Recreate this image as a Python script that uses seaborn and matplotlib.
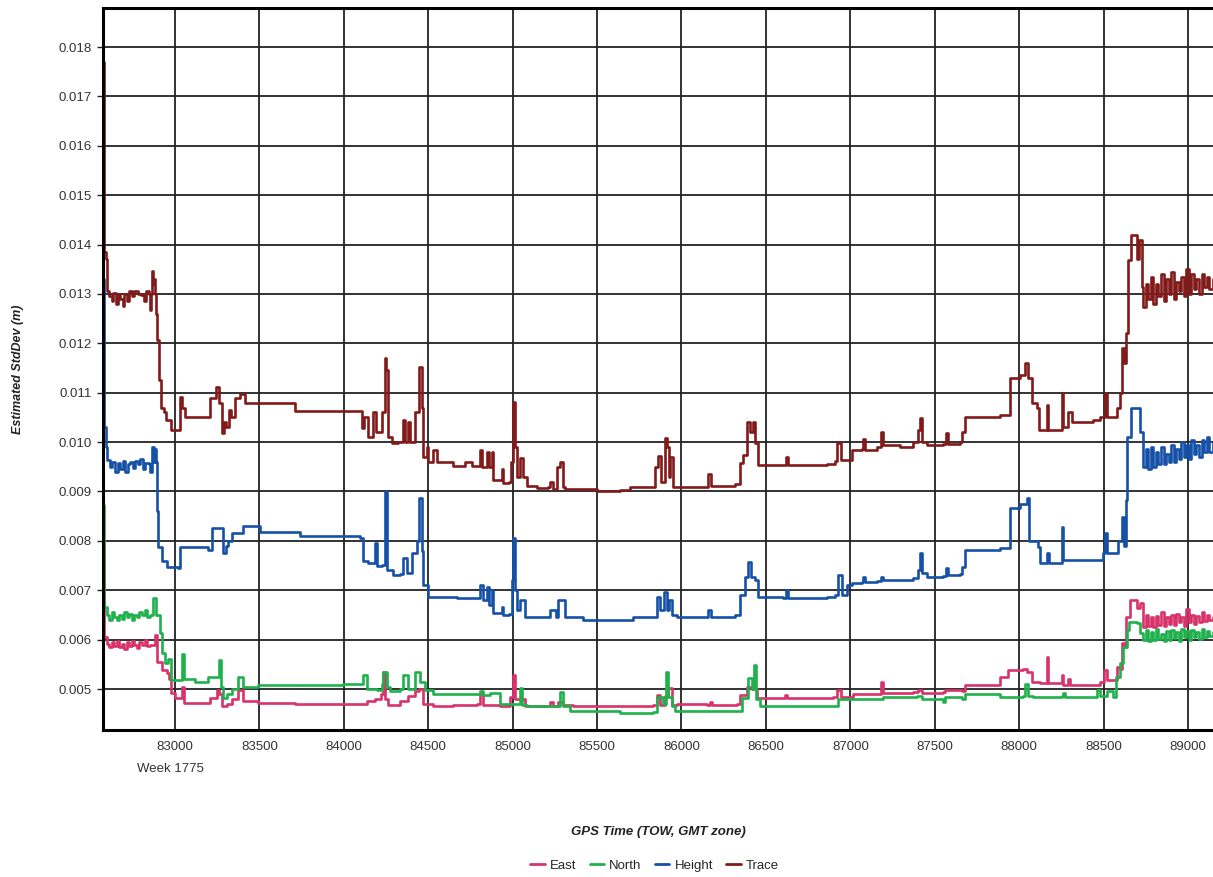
import pandas as pd
import matplotlib
matplotlib.use("Agg")
import matplotlib.pyplot as plt
import seaborn as sns

# values (TOW seconds, metres)
trace_x = [82578, 82582, 82590, 82595, 82610, 82625, 82635, 82650, 82660, 82675, 82690, 82700, 82715, 82730,
           82745, 82760, 82780, 82800, 82815, 82830, 82845, 82852, 82860, 82866, 82872, 82878, 82884, 82887,
           82893, 82905, 82920, 82935, 82950, 82976, 82990, 83030, 83040, 83060, 83195, 83210, 83245, 83260,
           83278, 83290, 83300, 83320, 83330, 83355, 83385, 83415, 83515, 83711, 84096, 84108, 84120, 84143,
           84173, 84190, 84226, 84244, 84250, 84261, 84285, 84321, 84350, 84360, 84380, 84395, 84422, 84445,
           84463, 84469, 84493, 84499, 84528, 84552, 84647, 84718, 84760, 84807, 84820, 84848, 84862, 84878,
           84884, 84930, 84937, 84945, 84978, 84990, 85002, 85012, 85026, 85043, 85061, 85085, 85144, 85209,
           85220, 85239, 85262, 85280, 85298, 85310, 85500, 85636, 85695, 85825, 85843, 85861, 85878, 85902,
           85915, 85926, 85935, 85949, 86127, 86157, 86175, 86317, 86346, 86364, 86388, 86406, 86423, 86435,
           86453, 86601, 86619, 86631, 86862, 86909, 86921, 86935, 86945, 86980, 87010, 87069, 87075, 87087,
           87158, 87182, 87194, 87294, 87371, 87401, 87413, 87424, 87454, 87549, 87567, 87578, 87650, 87661,
           87679, 87886, 87934, 87946, 88005, 88035, 88052, 88076, 88106, 88117, 88141, 88165, 88171, 88242,
           88254, 88260, 88289, 88313, 88437, 88479, 88508, 88520, 88556, 88580, 88597, 88609, 88621, 88633,
           88645, 88663, 88686, 88698, 88710, 88728, 88734, 88750, 88765, 88780, 88795, 88810, 88825, 88840,
           88855, 88870, 88885, 88900, 88915, 88930, 88945, 88960, 88975, 88990, 89005, 89020, 89035, 89050,
           89065, 89080, 89095, 89110, 89125, 89148]
trace_y = [0.01770, 0.01385, 0.01370, 0.01305, 0.01295, 0.01285, 0.01302, 0.01280, 0.01300, 0.01290, 0.01275,
           0.01300, 0.01285, 0.01305, 0.01295, 0.01305, 0.01300, 0.01298, 0.01285, 0.01305, 0.01300, 0.01267,
           0.01300, 0.01346, 0.01320, 0.01330, 0.01300, 0.01260, 0.01207, 0.01126, 0.01070, 0.01060, 0.01045,
           0.01024, 0.01024, 0.01091, 0.01070, 0.01050, 0.01050, 0.01090, 0.01112, 0.01080, 0.01018, 0.01040,
           0.01030, 0.01065, 0.01050, 0.01090, 0.01097, 0.01079, 0.01080, 0.01063, 0.01063, 0.01029, 0.01050,
           0.01010, 0.01060, 0.01020, 0.01060, 0.01170, 0.01146, 0.01010, 0.00998, 0.01000, 0.01045, 0.01000,
           0.01040, 0.01000, 0.01060, 0.01152, 0.01070, 0.00970, 0.00990, 0.00960, 0.00984, 0.00960, 0.00952,
           0.00960, 0.00951, 0.00984, 0.00950, 0.00980, 0.00950, 0.00980, 0.00923, 0.00923, 0.00945, 0.00917,
           0.00920, 0.00960, 0.01081, 0.00990, 0.00930, 0.00968, 0.00930, 0.00911, 0.00907, 0.00910, 0.00920,
           0.00905, 0.00950, 0.00960, 0.00910, 0.00905, 0.00901, 0.00903, 0.00910, 0.00910, 0.00950, 0.00972,
           0.00920, 0.01008, 0.00990, 0.00930, 0.00970, 0.00910, 0.00910, 0.00935, 0.00912, 0.00915, 0.00958,
           0.00974, 0.01040, 0.01020, 0.01040, 0.00998, 0.00954, 0.00954, 0.00970, 0.00954, 0.00956, 0.00962,
           0.01000, 0.00998, 0.00964, 0.00964, 0.00984, 0.00985, 0.01006, 0.00984, 0.00990, 0.01020, 0.00994,
           0.00990, 0.01000, 0.01024, 0.01049, 0.01000, 0.00994, 0.00996, 0.01018, 0.00996, 0.01000, 0.01020,
           0.01050, 0.01055, 0.01055, 0.01130, 0.01135, 0.01160, 0.01130, 0.01080, 0.01070, 0.01024, 0.01024,
           0.01075, 0.01024, 0.01024, 0.01100, 0.01030, 0.01060, 0.01040, 0.01045, 0.01050, 0.01100, 0.01050,
           0.01050, 0.01070, 0.01100, 0.01190, 0.01160, 0.01220, 0.01369, 0.01420, 0.01420, 0.01370, 0.01410,
           0.01314, 0.01274, 0.01320, 0.01290, 0.01335, 0.01280, 0.01320, 0.01295, 0.01340, 0.01285, 0.01330,
           0.01300, 0.01345, 0.01290, 0.01325, 0.01305, 0.01335, 0.01295, 0.01350, 0.01300, 0.01340, 0.01310,
           0.01330, 0.01300, 0.01340, 0.01315, 0.01335, 0.01310, 0.01330]

height_x = [82576, 82580, 82590, 82600, 82615, 82630, 82645, 82660, 82675, 82690, 82705, 82720, 82735, 82750,
            82765, 82780, 82795, 82810, 82825, 82845, 82852, 82864, 82876, 82882, 82887, 82893, 82899, 82923,
            82953, 83018, 83030, 83195, 83219, 83267, 83284, 83300, 83314, 83338, 83403, 83503, 83740, 84096,
            84113, 84143, 84185, 84196, 84226, 84244, 84256, 84291, 84333, 84350, 84374, 84404, 84433, 84445,
            84463, 84469, 84499, 84671, 84807, 84825, 84848, 84862, 84878, 84884, 84937, 84945, 84978, 84996,
            85002, 85012, 85026, 85043, 85073, 85209, 85221, 85257, 85268, 85292, 85310, 85417, 85654, 85713,
            85825, 85855, 85870, 85896, 85915, 85926, 85944, 85973, 86127, 86157, 86175, 86317, 86346, 86376,
            86394, 86410, 86435, 86453, 86601, 86619, 86631, 86862, 86909, 86927, 86951, 86980, 87010, 87069,
            87075, 87087, 87158, 87182, 87194, 87371, 87401, 87413, 87424, 87454, 87549, 87567, 87578, 87650,
            87661, 87679, 87886, 87946, 88005, 88046, 88058, 88112, 88123, 88153, 88165, 88177, 88230, 88254,
            88260, 88289, 88497, 88508, 88520, 88568, 88586, 88609, 88621, 88633, 88639, 88663, 88698, 88716,
            88734, 88750, 88765, 88780, 88795, 88810, 88825, 88840, 88855, 88870, 88885, 88900, 88915, 88930,
            88945, 88960, 88975, 88990, 89005, 89020, 89035, 89050, 89065, 89080, 89095, 89110, 89125, 89148]
height_y = [0.01330, 0.01030, 0.00990, 0.00964, 0.00950, 0.00960, 0.00940, 0.00958, 0.00945, 0.00962, 0.00940,
            0.00955, 0.00960, 0.00948, 0.00962, 0.00955, 0.00965, 0.00945, 0.00958, 0.00955, 0.00940, 0.00990,
            0.00960, 0.00985, 0.00960, 0.00860, 0.00787, 0.00760, 0.00747, 0.00745, 0.00788, 0.00782, 0.00826,
            0.00826, 0.00775, 0.00790, 0.00800, 0.00815, 0.00830, 0.00818, 0.00810, 0.00806, 0.00760, 0.00755,
            0.00795, 0.00750, 0.00752, 0.00900, 0.00740, 0.00730, 0.00732, 0.00765, 0.00735, 0.00775, 0.00800,
            0.00887, 0.00780, 0.00710, 0.00686, 0.00684, 0.00710, 0.00680, 0.00706, 0.00670, 0.00700, 0.00654,
            0.00666, 0.00650, 0.00652, 0.00720, 0.00806, 0.00700, 0.00660, 0.00680, 0.00646, 0.00646, 0.00660,
            0.00646, 0.00680, 0.00680, 0.00646, 0.00640, 0.00640, 0.00645, 0.00646, 0.00686, 0.00660, 0.00697,
            0.00660, 0.00680, 0.00650, 0.00645, 0.00645, 0.00660, 0.00646, 0.00650, 0.00690, 0.00727, 0.00757,
            0.00727, 0.00720, 0.00686, 0.00684, 0.00700, 0.00684, 0.00686, 0.00690, 0.00730, 0.00690, 0.00710,
            0.00715, 0.00716, 0.00727, 0.00716, 0.00718, 0.00727, 0.00720, 0.00725, 0.00740, 0.00775, 0.00735,
            0.00727, 0.00728, 0.00745, 0.00730, 0.00732, 0.00747, 0.00782, 0.00786, 0.00867, 0.00875, 0.00887,
            0.00800, 0.00787, 0.00755, 0.00755, 0.00775, 0.00755, 0.00755, 0.00828, 0.00762, 0.00762, 0.00775,
            0.00816, 0.00775, 0.00775, 0.00800, 0.00848, 0.00790, 0.00883, 0.01010, 0.01069, 0.01069, 0.01020,
            0.00950, 0.00985, 0.00945, 0.00990, 0.00950, 0.00980, 0.00955, 0.00990, 0.00955, 0.00975, 0.00960,
            0.00995, 0.00960, 0.00985, 0.00965, 0.01000, 0.00970, 0.00995, 0.00965, 0.01005, 0.00975, 0.00995,
            0.00970, 0.01005, 0.00980, 0.01010, 0.00980, 0.01000]

north_x = [82576, 82580, 82595, 82610, 82625, 82640, 82655, 82670, 82685, 82700, 82715, 82730, 82745, 82760,
           82775, 82790, 82805, 82820, 82835, 82852, 82870, 82887, 82911, 82923, 82941, 82959, 82976, 83030,
           83041, 83053, 83118, 83195, 83249, 83261, 83272, 83284, 83308, 83338, 83373, 83403, 83492, 83711,
           83995, 84096, 84113, 84137, 84196, 84226, 84232, 84256, 84273, 84333, 84350, 84380, 84422, 84451,
           84481, 84528, 84730, 84807, 84825, 84866, 84925, 84984, 85043, 85055, 85085, 85280, 85298, 85340,
           85636, 85831, 85855, 85890, 85908, 85920, 85944, 85961, 86329, 86358, 86394, 86417, 86429, 86441,
           86465, 86897, 86927, 87016, 87194, 87395, 87424, 87549, 87560, 87661, 87679, 87886, 88023, 88035,
           88052, 88082, 88254, 88260, 88270, 88461, 88479, 88520, 88556, 88574, 88597, 88615, 88639, 88651,
           88698, 88716, 88735, 88750, 88765, 88780, 88795, 88810, 88825, 88840, 88855, 88870, 88885, 88900,
           88915, 88930, 88945, 88960, 88975, 88990, 89005, 89020, 89035, 89050, 89065, 89080, 89095, 89110,
           89125, 89148]
north_y = [0.00873, 0.00666, 0.00650, 0.00640, 0.00655, 0.00645, 0.00640, 0.00650, 0.00642, 0.00655, 0.00645,
           0.00652, 0.00640, 0.00650, 0.00645, 0.00655, 0.00650, 0.00660, 0.00645, 0.00650, 0.00684, 0.00650,
           0.00613, 0.00573, 0.00553, 0.00560, 0.00518, 0.00518, 0.00570, 0.00520, 0.00515, 0.00524, 0.00525,
           0.00559, 0.00504, 0.00482, 0.00490, 0.00500, 0.00524, 0.00505, 0.00508, 0.00508, 0.00510, 0.00510,
           0.00528, 0.00500, 0.00498, 0.00510, 0.00535, 0.00505, 0.00495, 0.00500, 0.00528, 0.00500, 0.00534,
           0.00515, 0.00498, 0.00490, 0.00490, 0.00496, 0.00488, 0.00492, 0.00470, 0.00470, 0.00502, 0.00468,
           0.00466, 0.00494, 0.00466, 0.00455, 0.00452, 0.00454, 0.00484, 0.00470, 0.00534, 0.00484, 0.00466,
           0.00455, 0.00455, 0.00482, 0.00522, 0.00500, 0.00549, 0.00480, 0.00466, 0.00466, 0.00480, 0.00480,
           0.00484, 0.00485, 0.00480, 0.00474, 0.00484, 0.00480, 0.00490, 0.00484, 0.00486, 0.00510, 0.00486,
           0.00484, 0.00485, 0.00492, 0.00484, 0.00498, 0.00485, 0.00495, 0.00484, 0.00524, 0.00552, 0.00585,
           0.00620, 0.00636, 0.00634, 0.00613, 0.00600, 0.00620, 0.00598, 0.00615, 0.00600, 0.00622, 0.00602,
           0.00612, 0.00598, 0.00618, 0.00600, 0.00620, 0.00603, 0.00615, 0.00598, 0.00622, 0.00605, 0.00618,
           0.00600, 0.00620, 0.00605, 0.00615, 0.00602, 0.00622, 0.00605, 0.00618, 0.00608, 0.00615]

east_x = [82576, 82580, 82595, 82610, 82625, 82640, 82655, 82670, 82685, 82700, 82715, 82730, 82745, 82760,
          82775, 82790, 82805, 82820, 82835, 82852, 82882, 82893, 82923, 82953, 82964, 82976, 83000, 83030,
          83041, 83053, 83118, 83207, 83249, 83260, 83278, 83308, 83338, 83373, 83403, 83492, 83711, 84000,
          84096, 84137, 84185, 84220, 84232, 84244, 84260, 84333, 84380, 84422, 84445, 84469, 84528, 84647,
          84790, 84807, 84825, 84925, 84984, 85002, 85014, 85043, 85073, 85209, 85221, 85240, 85268, 85298,
          85357, 85677, 85831, 85855, 85875, 85902, 85920, 85944, 85973, 86151, 86169, 86180, 86329, 86346,
          86388, 86417, 86447, 86601, 86613, 86625, 86897, 86921, 86945, 87016, 87158, 87182, 87194, 87371,
          87401, 87424, 87549, 87560, 87661, 87679, 87886, 87934, 88023, 88046, 88076, 88123, 88165, 88171,
          88230, 88254, 88260, 88289, 88301, 88479, 88502, 88520, 88556, 88580, 88597, 88609, 88621, 88633,
          88657, 88686, 88698, 88716, 88734, 88750, 88765, 88780, 88795, 88810, 88825, 88840, 88855, 88870,
          88885, 88900, 88915, 88930, 88945, 88960, 88975, 88990, 89005, 89020, 89035, 89050, 89065, 89080,
          89095, 89110, 89125, 89148]
east_y = [0.00795, 0.00605, 0.00592, 0.00585, 0.00595, 0.00588, 0.00598, 0.00585, 0.00592, 0.00582, 0.00595,
          0.00588, 0.00598, 0.00590, 0.00584, 0.00595, 0.00590, 0.00600, 0.00588, 0.00590, 0.00609, 0.00555,
          0.00538, 0.00532, 0.00520, 0.00492, 0.00482, 0.00482, 0.00504, 0.00472, 0.00472, 0.00482, 0.00498,
          0.00490, 0.00466, 0.00470, 0.00480, 0.00498, 0.00475, 0.00472, 0.00470, 0.00470, 0.00470, 0.00475,
          0.00480, 0.00490, 0.00535, 0.00480, 0.00468, 0.00475, 0.00485, 0.00495, 0.00500, 0.00470, 0.00465,
          0.00468, 0.00470, 0.00490, 0.00468, 0.00466, 0.00484, 0.00528, 0.00480, 0.00480, 0.00466, 0.00466,
          0.00474, 0.00466, 0.00474, 0.00468, 0.00466, 0.00466, 0.00467, 0.00488, 0.00468, 0.00485, 0.00502,
          0.00468, 0.00470, 0.00468, 0.00474, 0.00468, 0.00470, 0.00488, 0.00504, 0.00500, 0.00482, 0.00482,
          0.00488, 0.00482, 0.00484, 0.00498, 0.00484, 0.00490, 0.00490, 0.00514, 0.00492, 0.00494, 0.00498,
          0.00492, 0.00494, 0.00498, 0.00495, 0.00508, 0.00524, 0.00538, 0.00540, 0.00535, 0.00514, 0.00512,
          0.00565, 0.00512, 0.00512, 0.00528, 0.00508, 0.00520, 0.00508, 0.00514, 0.00538, 0.00518, 0.00518,
          0.00544, 0.00540, 0.00593, 0.00585, 0.00646, 0.00680, 0.00680, 0.00665, 0.00675, 0.00626, 0.00650,
          0.00628, 0.00645, 0.00625, 0.00648, 0.00630, 0.00655, 0.00628, 0.00645, 0.00632, 0.00650, 0.00630,
          0.00652, 0.00635, 0.00645, 0.00628, 0.00662, 0.00635, 0.00650, 0.00632, 0.00648, 0.00635, 0.00655,
          0.00638, 0.00650, 0.00640, 0.00645]

series_names = ["East", "North", "Height", "Trace"]
series_colors = ["#d8336a", "#1fb14c", "#1651a8", "#821a1a"]

y_ticks = [0.005, 0.006, 0.007, 0.008, 0.009, 0.010, 0.011, 0.012, 0.013, 0.014, 0.015, 0.016, 0.017, 0.018]
x_ticks = [83000, 83500, 84000, 84500, 85000, 85500, 86000, 86500, 87000, 87500, 88000, 88500, 89000]

frames = []
for name, xs, ys in zip(series_names, [east_x, north_x, height_x, trace_x], [east_y, north_y, height_y, trace_y]):
    frames.append(pd.DataFrame({"tow": xs, "std": ys, "series": name}))
df = pd.concat(frames, ignore_index=True)

sns.set_theme(style="white")
plt.rcParams["font.family"] = ["Liberation Sans", "DejaVu Sans"]

fig = plt.figure(figsize=(12.13, 8.77), dpi=100)
ax = fig.add_axes([103 / 1213, 1 - 730 / 877, 1110 / 1213, 722 / 877])

# the receiver output is piecewise constant, so draw it as steps
sns.lineplot(data=df, x="tow", y="std", hue="series", hue_order=series_names,
             palette=dict(zip(series_names, series_colors)), estimator=None, sort=False,
             linewidth=1.9, drawstyle="steps-post", ax=ax)

ax.set_xlim(82574, 89148)
ax.set_ylim(0.00417, 0.01879)
ax.set_xticks(x_ticks)
ax.set_yticks(y_ticks)
ax.set_xticklabels([str(t) for t in x_ticks])
ax.set_yticklabels([f"{t:.3f}" for t in y_ticks])
ax.grid(True, color="#222222", linewidth=1.3)
ax.set_axisbelow(True)
ax.tick_params(axis="both", labelsize=9.5, colors="#333333", length=4, width=1, pad=4)
ax.tick_params(axis="x", length=0, pad=8)
ax.tick_params(axis="y", left=True, color="#222222")
for side in ["left", "top", "bottom"]:
    ax.spines[side].set_color("black")
    ax.spines[side].set_linewidth(2.2)
ax.spines["right"].set_visible(False)
ax.set_xlabel("")
ax.set_ylabel("")

fig.text(137 / 1213, 1 - 769 / 877, "Week 1775", fontsize=9.5, color="#333333", va="center", ha="left")
fig.text(658 / 1213, 1 - 832 / 877, "GPS Time (TOW, GMT zone)", fontsize=9.5, fontweight="bold",
         fontstyle="italic", color="#222222", ha="center", va="center")
fig.text(18 / 1213, 1 - 369 / 877, "Estimated StdDev (m)", fontsize=9, fontweight="bold",
         fontstyle="italic", color="#222222", ha="center", va="center", rotation=90)

sns.move_legend(ax, "center", bbox_to_anchor=(0.497, -0.188), ncol=4, frameon=False, title=None,
                fontsize=9.5, handlelength=1.1, handletextpad=0.4, columnspacing=1.0)
for line in ax.get_legend().get_lines():
    line.set_linewidth(2.0)

fig.savefig("out.png", dpi=100)
